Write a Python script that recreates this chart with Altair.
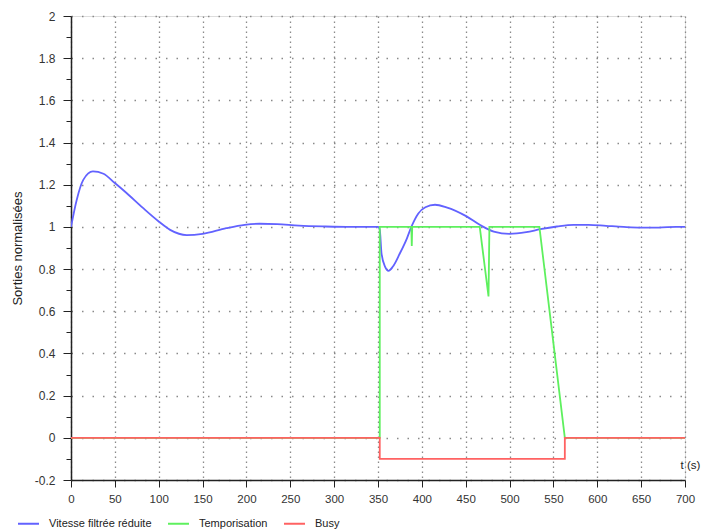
import altair as alt
import pandas as pd

# Series: "Vitesse filtrée réduite"
blue_t = [0, 6.5, 14, 25, 37, 50, 63, 82, 100, 113, 132, 150, 177, 198, 215, 235, 260, 290, 320, 350,
          352, 354, 358, 362, 367, 375, 383, 388, 396, 404, 415, 428, 451, 466, 482, 500, 519, 535,
          554, 573, 590, 610, 630, 650, 670, 690, 700]
blue_y = [1.0, 1.128, 1.223, 1.263, 1.252, 1.208, 1.162, 1.09, 1.026, 0.986, 0.961, 0.967, 0.994, 1.010,
          1.015, 1.013, 1.006, 1.002, 1.0, 1.0,
          0.986, 0.875, 0.812, 0.792, 0.812, 0.875, 0.946, 1.0, 1.064, 1.093, 1.105, 1.093, 1.05, 1.01,
          0.978, 0.967, 0.975, 0.989, 1.002, 1.01, 1.01, 1.005, 1.0, 0.997, 0.997, 1.0, 1.0]

# Series: "Temporisation"
green_t = [0, 352, 352, 388, 388.5, 389, 466, 476, 477, 534, 563, 700]
green_y = [0, 0, 1, 1, 0.91, 1, 1, 0.67, 1, 1, 0, 0]

# Series: "Busy"
red_t = [0, 352, 352, 563, 563, 700]
red_y = [0, 0, -0.1, -0.1, 0, 0]

series_names = ["Vitesse filtrée réduite", "Temporisation", "Busy"]
series_colors = ["#6262ff", "#5ef05e", "#ff6262"]

x_ticks = list(range(0, 701, 50))
y_ticks = [round(-0.2 + 0.1 * i, 1) for i in range(23)]

rows = []
for name, ts, ys in zip(series_names, [blue_t, green_t, red_t], [blue_y, green_y, red_y]):
    for i, (t, y) in enumerate(zip(ts, ys)):
        rows.append({"t": t, "v": y, "serie": name, "i": i})
df = pd.DataFrame(rows)

FONT = "Liberation Sans, Arial, sans-serif"

x_enc = alt.X(
    "t:Q",
    scale=alt.Scale(domain=[0, 700], nice=False, zero=False),
    axis=alt.Axis(
        values=x_ticks, title="t (s)", titleX=609, titleY=-15, titleAlign="left",
        titleBaseline="middle", titleFont=FONT, titleFontSize=11.5, titleFontWeight="normal",
        titleColor="#222", labelFont=FONT, labelFontSize=11.5, labelColor="#333",
        labelPadding=6, tickSize=7, tickColor="#222", domainColor="#222", domainWidth=1.5,
        labelFlush=False, gridColor="#8a8a8a", gridDash=[1.5, 3.5], gridWidth=1.3,
    ),
)
y_enc = alt.Y(
    "v:Q",
    scale=alt.Scale(domain=[-0.2, 2], nice=False, zero=False),
    axis=alt.Axis(
        values=y_ticks, format=".1~f",
        labelExpr="round(datum.value*10)%2==0 ? replace(datum.label,'\u2212','-') : ''",
        title="Sorties normalisées", titleX=-54, titleBaseline="middle",
        titleFont=FONT, titleFontSize=13, titleFontWeight="normal",
        titleColor="#222", labelFont=FONT, labelFontSize=12, labelColor="#333",
        labelPadding=8, tickColor="#222", domainColor="#222", domainWidth=1.5,
        tickSize={"condition": {"test": "round(datum.value*10)%2!=0", "value": 5}, "value": 8},
        gridOpacity={"condition": {"test": "round(datum.value*10)%2!=0", "value": 0}, "value": 1},
        labelFlush=False, gridColor="#8a8a8a", gridDash=[1.5, 9], gridWidth=1.3,
    ),
)
color_enc = alt.Color(
    "serie:N",
    scale=alt.Scale(domain=series_names, range=series_colors),
    legend=alt.Legend(
        title=None, orient="none", legendX=-54, legendY=496, direction="horizontal",
        symbolType="stroke", symbolSize=441, symbolStrokeWidth=2, labelFont=FONT,
        labelFontSize=11, labelColor="#222", columnPadding=12, labelOffset=9,
    ),
)

base = alt.Chart(df)
blue = base.transform_filter(alt.datum.serie == series_names[0]).mark_line(
    strokeWidth=1.8, interpolate="monotone", clip=True
).encode(x=x_enc, y=y_enc, color=color_enc, order="i:Q")
green = base.transform_filter(alt.datum.serie == series_names[1]).mark_line(
    strokeWidth=1.8, clip=True
).encode(x=x_enc, y=y_enc, color=color_enc, order="i:Q")
red = base.transform_filter(alt.datum.serie == series_names[2]).mark_line(
    strokeWidth=1.8, clip=True
).encode(x=x_enc, y=y_enc, color=color_enc, order="i:Q")

chart = alt.layer(blue, green, red).properties(
    width=614, height=464,
    autosize=alt.AutoSizeParams(type="none"),
    padding={"left": 63, "top": 8, "right": 19, "bottom": 52},
).configure_view(stroke=None).configure(background="white")

chart.save("out.html", embed_options={"renderer": "svg", "actions": False})
